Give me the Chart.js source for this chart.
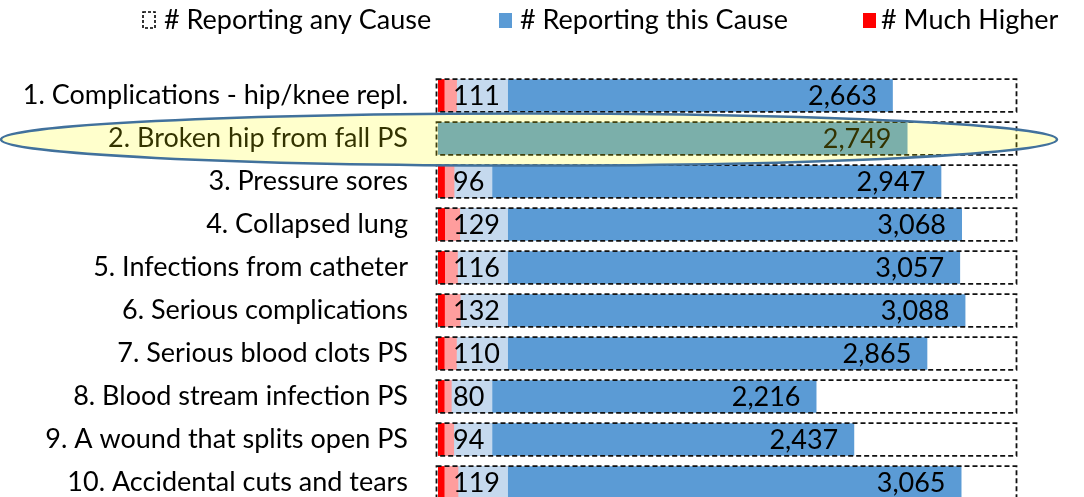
<!DOCTYPE html>
<html>
<head>
<meta charset="utf-8">
<script src="https://cdn.jsdelivr.net/npm/chart.js@4.4.1/dist/chart.umd.min.js"></script>
<style>
  html, body { margin: 0; padding: 0; background: #fff; overflow: hidden; }
  #wrap { position: relative; width: 1084px; height: 510px; }
</style>
</head>
<body>
<div id="wrap"><canvas id="chart"></canvas></div>
<script>
// Hospital-acquired conditions: counts per cause
const causes = [
  '1. Complications - hip/knee repl.',
  '2. Broken hip from fall PS',
  '3. Pressure sores',
  '4. Collapsed lung',
  '5. Infections from catheter',
  '6. Serious complications',
  '7. Serious blood clots PS',
  '8. Blood stream infection PS',
  '9. A wound that splits open PS',
  '10. Accidental cuts and tears'
];
const anyCause = [3390, 3390, 3390, 3390, 3390, 3390, 3390, 3390, 3390, 3390];
const thisCause = [2663, 2749, 2947, 3068, 3057, 3088, 2865, 2216, 2437, 3065];
const higher = [111, null, 96, 129, 116, 132, 110, 80, 94, 119];
const muchHigher = [38, null, 40, 41, 41, 40, 38, 38, 38, 38];

const FONT_FAMILY = 'Lato';
const FONT = '27px ' + FONT_FAMILY;
const fmt = v => v.toLocaleString('en-US');

Chart.defaults.font.family = FONT_FAMILY;
Chart.defaults.font.size = 27;
Chart.defaults.color = '#000';

// read every mark back from the library's own bar elements
function barBox(bar) {
  const p = bar.getProps(['x', 'y', 'base', 'height'], true);
  return { left: Math.min(p.base, p.x), right: Math.max(p.base, p.x), top: p.y - p.height / 2, h: p.height, y: p.y };
}

const decorations = {
  id: 'decorations',
  beforeDatasetDraw(chart, args) {
    // light blue label boxes sit under the "higher" bars
    if (args.index !== 1) return;
    const ctx = chart.ctx;
    const x0 = chart.scales.x.getPixelForValue(0);
    ctx.save();
    ctx.font = FONT;
    ctx.fillStyle = '#c5d9ee';
    chart.getDatasetMeta(1).data.forEach((bar, i) => {
      if (higher[i] == null) return;
      const b = barBox(bar);
      const w = ctx.measureText(fmt(higher[i])).width;
      ctx.fillRect(x0, b.top, 15 + w + 8, b.h);
    });
    ctx.restore();
  },
  afterDatasetsDraw(chart) {
    const ctx = chart.ctx;
    const x0 = chart.scales.x.getPixelForValue(0);
    ctx.save();
    // dashed outline for "# Reporting any Cause" (left edge tucked just outside the bars)
    ctx.setLineDash([5, 3]);
    ctx.lineWidth = 1.8;
    ctx.strokeStyle = '#111';
    chart.getDatasetMeta(3).data.forEach(bar => {
      const b = barBox(bar);
      ctx.strokeRect(b.left - 1.5, b.top, b.right - b.left + 1, b.h);
    });
    ctx.setLineDash([]);
    // value labels
    ctx.font = FONT;
    ctx.fillStyle = '#000';
    ctx.textBaseline = 'middle';
    chart.getDatasetMeta(2).data.forEach((bar, i) => {
      const b = barBox(bar);
      ctx.textAlign = 'right';
      ctx.fillText(fmt(thisCause[i]), b.right - 16, b.y + 1);
      if (higher[i] != null) {
        ctx.textAlign = 'left';
        ctx.fillText(fmt(higher[i]), x0 + 15, b.y + 1);
      }
    });
    ctx.restore();
  },
  afterDraw(chart) {
    const ctx = chart.ctx;
    ctx.save();
    // legend
    ctx.font = FONT;
    ctx.fillStyle = '#000';
    ctx.textBaseline = 'middle';
    ctx.textAlign = 'left';
    const ly = 20;
    ctx.setLineDash([3, 2]);
    ctx.lineWidth = 1.6;
    ctx.strokeStyle = '#000';
    ctx.strokeRect(143, ly - 8, 12, 16);
    ctx.setLineDash([]);
    ctx.fillText('# Reporting any Cause', 164, ly);
    ctx.fillStyle = '#5b9bd5';
    ctx.fillRect(499, ly - 7, 13, 15);
    ctx.fillStyle = '#000';
    ctx.fillText('# Reporting this Cause', 520, ly);
    ctx.fillStyle = '#ff0000';
    ctx.fillRect(863, ly - 7, 13, 15);
    ctx.fillStyle = '#000';
    ctx.fillText('# Much Higher', 881, ly);
    // highlight ellipse around row 2
    const row = chart.scales.y.getPixelForValue(1);
    ctx.beginPath();
    ctx.ellipse(529, row + 1, 528, 26, 0, 0, Math.PI * 2);
    ctx.fillStyle = 'rgba(255,255,0,0.2)';
    ctx.fill();
    ctx.lineWidth = 2.5;
    ctx.strokeStyle = '#41719c';
    ctx.stroke();
    ctx.restore();
  }
};

new Chart(document.getElementById('chart'), {
  type: 'bar',
  data: {
    labels: causes,
    datasets: [
      { label: '# Much Higher', data: muchHigher, backgroundColor: '#ff0000' },
      { label: '# Higher', data: higher, backgroundColor: '#ff9d9d' },
      { label: '# Reporting this Cause', data: thisCause, backgroundColor: '#5b9bd5' },
      { label: '# Reporting any Cause', data: anyCause, backgroundColor: 'rgba(255,255,255,0)' }
    ]
  },
  options: {
    indexAxis: 'y',
    responsive: true,
    maintainAspectRatio: false,
    animation: false,
    datasets: { bar: { grouped: false, categoryPercentage: 1, barPercentage: 0.76, borderWidth: 0 } },
    layout: { padding: { top: 74, right: 67, bottom: 6, left: 0 } },
    scales: {
      x: { display: false, min: 0, max: 3390 },
      y: {
        grid: { display: false, drawTicks: false },
        border: { display: false },
        ticks: { padding: 30, color: '#000', font: { size: 27 } },
        afterFit: s => { s.width = 438; s.paddingTop = 0; s.paddingBottom = 0; }
      }
    },
    plugins: { legend: { display: false }, tooltip: { enabled: false } }
  },
  plugins: [decorations]
});
</script>
</body>
</html>
